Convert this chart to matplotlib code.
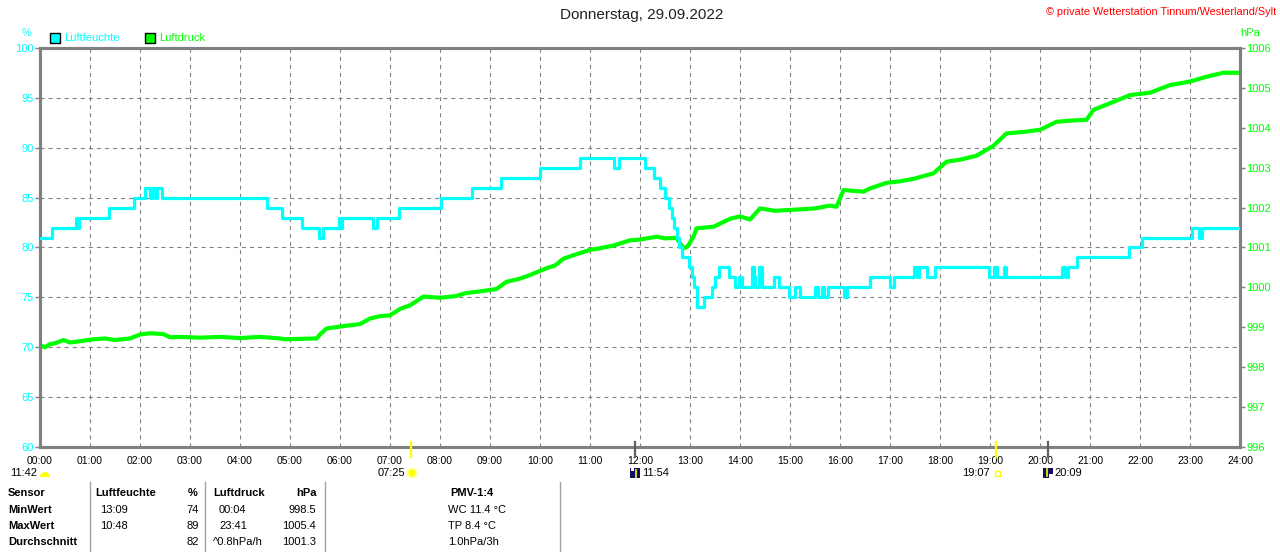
import matplotlib
matplotlib.use('Agg')
import matplotlib.pyplot as plt
from matplotlib.lines import Line2D
from matplotlib.patches import Rectangle, Wedge, Circle
from matplotlib.transforms import IdentityTransform

plt.rcParams['font.family'] = ['Liberation Sans', 'DejaVu Sans']
plt.rcParams['lines.scale_dashes'] = False

# ---------------- data ----------------
title = "Donnerstag, 29.09.2022"
copyright_text = "© private Wetterstation Tinnum/Westerland/Sylt"

hour_labels = ["%02d:00" % h for h in range(25)]
hum_grid = [65, 70, 75, 80, 85, 90, 95]

# relative humidity (%), step changes: time in hours -> value
hum_t = [0.00, 0.23, 0.72, 0.745, 0.77, 1.38, 1.88, 2.10, 2.20, 2.24, 2.30, 2.34, 2.43,
         4.53, 4.83, 5.23, 5.58, 5.66, 5.98, 6.00, 6.04, 6.66, 6.73, 7.17, 8.03, 8.63,
         9.21, 10.00, 10.80, 11.47, 11.57, 12.10, 12.27, 12.40, 12.50, 12.57, 12.63,
         12.68, 12.73, 12.78, 12.83, 12.97, 13.03, 13.08, 13.13, 13.27, 13.43, 13.50,
         13.57, 13.77, 13.90, 13.97, 14.03, 14.23, 14.28, 14.30, 14.37, 14.43, 14.67,
         14.77, 14.97, 15.10, 15.20, 15.50, 15.55, 15.63, 15.68, 15.75, 16.07, 16.13,
         16.60, 17.00, 17.07, 17.47, 17.53, 17.57, 17.73, 17.90, 18.97, 19.07, 19.13,
         19.27, 19.33, 20.43, 20.50, 20.55, 20.73, 21.77, 22.03, 23.03, 23.18, 23.24, 24.00]
hum_v = [81, 82, 83, 82, 83, 84, 85, 86, 85, 86, 85, 86, 85,
         84, 83, 82, 81, 82, 83, 82, 83, 82, 83, 84, 85, 86,
         87, 88, 89, 88, 89, 88, 87, 86, 85, 84, 83,
         82, 81, 80, 79, 78, 77, 76, 74, 75, 76, 77,
         78, 77, 76, 77, 76, 78, 77, 76, 78, 76, 77,
         76, 75, 76, 75, 76, 75, 76, 75, 76, 75, 76,
         77, 76, 77, 78, 77, 78, 77, 78, 77, 78, 77,
         78, 77, 78, 77, 78, 79, 80, 81, 82, 81, 82, 82]

# air pressure (hPa)
p_t = [0.0, 0.1, 0.2, 0.3, 0.47, 0.6, 0.8, 1.07, 1.3, 1.5, 1.8, 2.0, 2.2, 2.47, 2.6,
       2.8, 3.2, 3.6, 4.0, 4.4, 4.8, 4.9, 5.2, 5.53, 5.6, 5.73, 5.9, 6.13, 6.4, 6.6,
       6.8, 7.0, 7.2, 7.4, 7.67, 8.0, 8.3, 8.53, 8.8, 9.13, 9.33, 9.6, 9.8, 10.13,
       10.3, 10.47, 10.7, 11.0, 11.2, 11.47, 11.8, 12.0, 12.33, 12.5, 12.73, 12.87,
       12.95, 13.07, 13.13, 13.47, 13.8, 14.0, 14.2, 14.4, 14.7, 15.13, 15.5, 15.8,
       15.93, 16.07, 16.47, 16.6, 16.93, 17.2, 17.47, 17.87, 18.13, 18.4, 18.73,
       19.07, 19.33, 19.7, 20.0, 20.33, 20.6, 20.93, 21.07, 21.47, 21.8, 22.2, 22.6,
       23.0, 23.33, 23.67, 24.0]
p_v = [998.55, 998.50, 998.58, 998.60, 998.68, 998.62, 998.65, 998.70, 998.72, 998.68,
       998.72, 998.82, 998.85, 998.83, 998.75, 998.76, 998.74, 998.76, 998.73, 998.76,
       998.72, 998.70, 998.71, 998.72, 998.82, 998.97, 999.00, 999.04, 999.08, 999.22,
       999.28, 999.30, 999.46, 999.55, 999.77, 999.74, 999.78, 999.86, 999.90, 999.96,
       1000.14, 1000.22, 1000.31, 1000.48, 1000.55, 1000.72, 1000.82, 1000.94, 1000.98,
       1001.05, 1001.18, 1001.20, 1001.27, 1001.23, 1001.24, 1000.98, 1001.02, 1001.27,
       1001.48, 1001.52, 1001.72, 1001.78, 1001.70, 1001.98, 1001.92, 1001.95, 1001.98,
       1002.05, 1002.02, 1002.44, 1002.40, 1002.48, 1002.62, 1002.66, 1002.72, 1002.86,
       1003.15, 1003.20, 1003.30, 1003.55, 1003.86, 1003.90, 1003.95, 1004.15, 1004.18,
       1004.20, 1004.45, 1004.65, 1004.82, 1004.88, 1005.07, 1005.16, 1005.28, 1005.38,
       1005.38]

# sun / moon events (hours, label)
sunrise = (7 + 25/60, "07:25")
sunset = (19 + 7/60, "19:07")
moonset = (11 + 42/60, "11:42")
moonrise = (11 + 54/60, "11:54")
moonrise2 = (20 + 9/60, "20:09")

# table
tbl_header = ["Sensor", "Luftfeuchte", "%", "Luftdruck", "hPa", "PMV-1:4"]
tbl_rows = ["MinWert", "MaxWert", "Durchschnitt"]
tbl_hum_time = ["13:09", "10:48", ""]
tbl_hum_val = ["74", "89", "82"]
tbl_p_time = ["00:04", "23:41", "^0.8hPa/h"]
tbl_p_val = ["998.5", "1005.4", "1001.3"]
tbl_pmv = ["WC 11.4 °C", "TP 8.4 °C", "1.0hPa/3h"]

# ---------------- figure ----------------
W, H = 1280, 552
fig = plt.figure(figsize=(W / 100, H / 100), dpi=100)
fig.patch.set_facecolor('white')

def fx(x):
    return x / W

def fy(y):
    return 1 - y / H

CYAN = '#00FFFF'
GREEN = '#00FF00'
GREY = '#808080'

ax = fig.add_axes([fx(40), fy(447), 1200 / W, 399 / H])
ax.set_xlim(0, 24)
ax.set_ylim(60, 100)
ax.set_xticks(range(25))
ax.set_xticklabels(hour_labels, fontsize=7.5, color='black')
ax.set_yticks(range(60, 101, 5))
ax.tick_params(axis='x', length=0, pad=6.5)
ax.tick_params(axis='y', length=3.6, width=1, color=GREY, labelcolor=CYAN,
               labelsize=8, pad=1, direction='out')
for s in ax.spines.values():
    s.set_color(GREY)
    s.set_linewidth(2.2)

ax2 = ax.twinx()
ax2.set_ylim(996, 1006)
ax2.set_yticks(range(996, 1007))
ax2.tick_params(axis='y', length=3.6, width=1, color=GREY, labelcolor=GREEN,
                labelsize=8, pad=1, direction='out')
for s in ax2.spines.values():
    s.set_color(GREY)
    s.set_linewidth(2.2)

# humidity axes on top of pressure axes (cyan drawn over green)
ax.set_zorder(ax2.get_zorder() + 1)
ax.patch.set_visible(False)
ax2.patch.set_visible(True)
ax2.patch.set_facecolor('white')

# grid drawn in the lower axes so that both curves sit above it
grid_style = dict(color=GREY, linestyle=(0, (2.9, 2.9)), linewidth=0.8, zorder=1)
for h in range(1, 24):
    ax2.add_line(Line2D([h, h], [0, 1], transform=ax2.get_xaxis_transform(), **grid_style))
for v in hum_grid:
    ax2.add_line(Line2D([0, 24], [v, v], transform=ax.transData, **grid_style))

ax2.plot(p_t, p_v, color=GREEN, linewidth=3.0, zorder=3)
ax.step(hum_t, hum_v, where='post', color=CYAN, linewidth=2.3, zorder=3)

# ---------------- texts around ----------------
fig.text(fx(642), fy(15), title, ha='center', va='center', fontsize=11, color='#202020')
fig.text(fx(1276), fy(12), copyright_text, ha='right', va='center', fontsize=7.8, color='#FF0000')
fig.text(fx(27), fy(33), "%", ha='center', va='center', fontsize=8, color=CYAN)
fig.text(fx(1250), fy(33), "hPa", ha='center', va='center', fontsize=8, color=GREEN)

# legend
fig.add_artist(Rectangle((fx(50), fy(43)), 10 / W, 10 / H, transform=fig.transFigure,
                         facecolor=CYAN, edgecolor='black', linewidth=1))
fig.text(fx(64), fy(38), "Luftfeuchte", ha='left', va='center', fontsize=8, color=CYAN)
fig.add_artist(Rectangle((fx(145), fy(43)), 10 / W, 10 / H, transform=fig.transFigure,
                         facecolor=GREEN, edgecolor='black', linewidth=1))
fig.text(fx(159), fy(38), "Luftdruck", ha='left', va='center', fontsize=8, color=GREEN)

# sun / moon event ticks below the axis
xt = ax.get_xaxis_transform()
def ev_tick(h, color, lw):
    ax.plot([h, h], [0.012, -0.025], transform=xt, color=color, linewidth=lw,
            clip_on=False, zorder=5)

ev_tick(sunrise[0], '#FFFF00', 1.6)
ev_tick(sunset[0], '#FFFF00', 1.6)
ev_tick(moonrise[0], '#606060', 1.6)
ev_tick(moonrise2[0], '#606060', 1.6)

ID = IdentityTransform()
def px(x, y):
    return (x, H - y)

def hour_px(h):
    return 40 + h * 50

# 11:42 moonset label with yellow half disc
fig.text(fx(37), fy(473), moonset[1], ha='right', va='center', fontsize=8, color='black')
fig.add_artist(Wedge(px(45, 477), 5, 0, 180, transform=ID, facecolor='#FFFF00', edgecolor='none'))

# 07:25 sunrise with sun
sx = hour_px(sunrise[0])
fig.text(fx(sx - 6), fy(473), sunrise[1], ha='right', va='center', fontsize=8, color='black')
fig.add_artist(Circle(px(sx + 1, 473), 5.5, transform=ID, facecolor='#FFFFA0', edgecolor='none'))
fig.add_artist(Circle(px(sx + 1, 473), 3.5, transform=ID, facecolor='#FFFF00', edgecolor='none'))

# 11:54 moon icon
mx = hour_px(moonrise[0])
fig.add_artist(Rectangle(px(mx - 5, 478), 10, 10, transform=ID, facecolor='#101060', edgecolor='none'))
fig.add_artist(Rectangle(px(mx - 4, 471), 3, 3, transform=ID, facecolor='white', edgecolor='none'))
fig.add_artist(Line2D([mx + 1, mx + 1], [H - 470, H - 477], transform=ID, color='#FFFF00', linewidth=1.2))
fig.text(fx(mx + 7), fy(473), moonrise[1], ha='left', va='center', fontsize=8, color='black')

# 19:07 sunset
ssx = hour_px(sunset[0])
fig.text(fx(ssx - 6), fy(473), sunset[1], ha='right', va='center', fontsize=8, color='black')
fig.add_artist(Rectangle(px(ssx - 1, 476), 5, 5, transform=ID, facecolor='none',
                         edgecolor='#FFFF00', linewidth=1))

# 20:09 moon icon
m2 = hour_px(moonrise2[0])
fig.add_artist(Rectangle(px(m2 - 5, 478), 10, 10, transform=ID, facecolor='#101060', edgecolor='none'))
fig.add_artist(Rectangle(px(m2 + 1, 478), 4, 4, transform=ID, facecolor='white', edgecolor='none'))
fig.add_artist(Line2D([m2 - 1, m2 - 1], [H - 469, H - 476], transform=ID, color='#FFFF00', linewidth=1.2))
fig.text(fx(m2 + 7), fy(473), moonrise2[1], ha='left', va='center', fontsize=8, color='black')

# ---------------- table ----------------
for lx in [90, 205, 325, 560]:
    fig.add_artist(Line2D([fx(lx), fx(lx)], [fy(482), fy(552)], transform=fig.transFigure,
                          color='#A0A0A0', linewidth=1))

row_y = [510, 526, 542]
hy = 493
fs = 8
fig.text(fx(8), fy(hy), tbl_header[0], ha='left', va='center', fontsize=fs, fontweight='bold')
fig.text(fx(95), fy(hy), tbl_header[1], ha='left', va='center', fontsize=fs, fontweight='bold')
fig.text(fx(198), fy(hy), tbl_header[2], ha='right', va='center', fontsize=fs, fontweight='bold')
fig.text(fx(213), fy(hy), tbl_header[3], ha='left', va='center', fontsize=fs, fontweight='bold')
fig.text(fx(317), fy(hy), tbl_header[4], ha='right', va='center', fontsize=fs, fontweight='bold')
fig.text(fx(472), fy(hy), tbl_header[5], ha='center', va='center', fontsize=fs, fontweight='bold')

for i, y in enumerate(row_y):
    fig.text(fx(8), fy(y), tbl_rows[i], ha='left', va='center', fontsize=fs, fontweight='bold')
    fig.text(fx(100), fy(y), tbl_hum_time[i], ha='left', va='center', fontsize=fs)
    fig.text(fx(199), fy(y), tbl_hum_val[i], ha='right', va='center', fontsize=fs)
    fig.text(fx(213 if tbl_p_time[i].startswith('^') else 219), fy(y), tbl_p_time[i],
             ha='left', va='center', fontsize=fs)
    fig.text(fx(316), fy(y), tbl_p_val[i], ha='right', va='center', fontsize=fs)
    fig.text(fx(448), fy(y), tbl_pmv[i], ha='left', va='center', fontsize=fs)

fig.savefig('out.png', dpi=100, facecolor='white')
